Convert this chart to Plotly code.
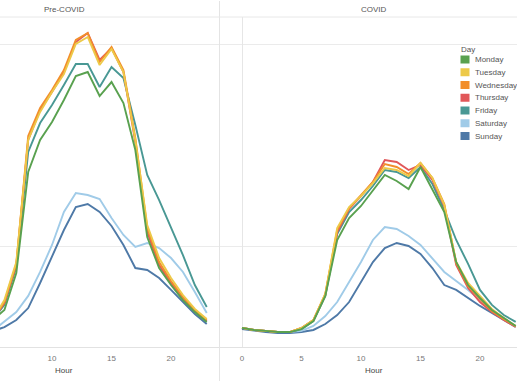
import plotly.graph_objects as go

hours = list(range(24))
days = ["Monday", "Tuesday", "Wednesday", "Thursday", "Friday", "Saturday", "Sunday"]
day_colors = ["#59a14f", "#edc948", "#f28e2b", "#e15759", "#499894", "#a0cbe8", "#4e79a7"]
x_ticks = [0, 5, 10, 15, 20]
y_grid = [1000, 10000]

# Pre-COVID hourly values
pre_monday = [440, 406, 384, 375, 384, 430, 482, 735, 2324, 3348, 4111, 5282, 6944, 7267, 5528, 6484, 5105, 2987, 1108, 778, 641, 540, 471, 421]
pre_tuesday = [440, 406, 384, 375, 384, 430, 540, 833, 3348, 4607, 5786, 7103, 10000, 10832, 7870, 9445, 7267, 3348, 1271, 872, 694, 572, 488, 435]
pre_wednesday = [440, 406, 384, 375, 384, 430, 528, 815, 3504, 4822, 5920, 7434, 10466, 11336, 8145, 9663, 7434, 3425, 1228, 833, 671, 559, 482, 430]
pre_thursday = [440, 406, 384, 375, 384, 430, 522, 805, 3348, 4713, 5786, 7267, 10230, 11336, 8333, 9554, 7267, 3272, 1173, 805, 656, 553, 477, 425]
pre_friday = [440, 406, 384, 375, 384, 430, 511, 787, 2920, 4063, 4989, 6266, 7962, 7962, 6125, 7692, 6787, 3972, 2247, 1689, 1228, 902, 641, 499]
pre_saturday = [482, 440, 411, 393, 375, 380, 421, 471, 566, 744, 1012, 1474, 1830, 1788, 1708, 1376, 1134, 989, 1035, 977, 872, 744, 592, 466]
pre_sunday = [500, 450, 420, 400, 380, 378, 397, 430, 493, 656, 882, 1200, 1560, 1614, 1474, 1256, 1012, 778, 761, 694, 606, 528, 461, 411]

# COVID hourly values
covid_monday = [393, 384, 380, 375, 375, 388, 425, 566, 1071, 1376, 1578, 1893, 2247, 2098, 1915, 2461, 1893, 1474, 833, 641, 553, 482, 440, 402]
covid_tuesday = [393, 384, 380, 375, 375, 393, 430, 579, 1228, 1560, 1768, 2050, 2433, 2378, 2221, 2576, 2171, 1596, 833, 656, 566, 488, 440, 402]
covid_wednesday = [393, 384, 380, 375, 375, 393, 430, 579, 1200, 1542, 1788, 2074, 2546, 2461, 2272, 2576, 2171, 1614, 824, 634, 547, 477, 435, 402]
covid_thursday = [393, 384, 380, 375, 375, 393, 430, 572, 1173, 1525, 1768, 2074, 2666, 2605, 2378, 2518, 2122, 1578, 805, 619, 528, 471, 430, 397]
covid_friday = [393, 384, 380, 375, 375, 388, 425, 566, 1147, 1474, 1689, 1982, 2378, 2324, 2171, 2461, 2027, 1508, 1071, 815, 606, 511, 455, 421]
covid_saturday = [393, 384, 380, 375, 375, 380, 402, 450, 528, 663, 833, 1071, 1242, 1214, 1121, 1012, 872, 744, 671, 606, 540, 482, 440, 402]
covid_sunday = [388, 380, 375, 371, 371, 375, 384, 411, 455, 528, 663, 833, 977, 1035, 1000, 913, 778, 641, 606, 553, 505, 466, 430, 397]

pre_series = [pre_monday, pre_tuesday, pre_wednesday, pre_thursday, pre_friday, pre_saturday, pre_sunday]
covid_series = [covid_monday, covid_tuesday, covid_wednesday, covid_thursday, covid_friday, covid_saturday, covid_sunday]

W, H = 517, 387
M_T, M_B = 17, 40
PH = H - M_T - M_B


def px_x(px):
    return px / W


def px_y(py):
    return (H - M_B - py) / PH


FONT = "Liberation Sans, Arial, sans-serif"

fig = go.Figure()
# draw Sunday first so that Monday ends up on top
for day, color, pre, cov in reversed(list(zip(days, day_colors, pre_series, covid_series))):
    fig.add_trace(go.Scatter(x=hours, y=pre, mode="lines", name=day, showlegend=False,
                             line=dict(color=color, width=1.9), xaxis="x", yaxis="y"))
    fig.add_trace(go.Scatter(x=hours, y=cov, mode="lines", name=day, showlegend=False,
                             line=dict(color=color, width=1.9), xaxis="x2", yaxis="y2"))

axis_common = dict(tickvals=x_ticks, showgrid=False, showline=True, linecolor="#e2e2e2",
                   linewidth=1, ticks="outside", ticklen=3, tickcolor="rgba(0,0,0,0)",
                   tickfont=dict(family=FONT, size=8, color="#777777"))
yaxis_common = dict(type="log", range=[2.5, 4.1337], tickvals=y_grid, showticklabels=False,
                    showgrid=True, gridcolor="#ebebeb", gridwidth=1, zeroline=False,
                    showline=False, ticks="")

shapes = [
    dict(type="line", xref="paper", yref="paper", x0=px_x(219.5), x1=px_x(219.5),
         y0=px_y(381), y1=px_y(1), line=dict(color="#e4e4e4", width=1)),
    dict(type="line", xref="paper", yref="paper", x0=0, x1=1, y0=px_y(17), y1=px_y(17),
         line=dict(color="#e8e8e8", width=1)),
]

annotations = [
    dict(text="Pre-COVID", x=px_x(64), y=px_y(10), xref="paper", yref="paper", showarrow=False,
         xanchor="center", yanchor="middle", font=dict(family=FONT, size=8, color="#555555")),
    dict(text="COVID", x=px_x(374), y=px_y(10), xref="paper", yref="paper", showarrow=False,
         xanchor="center", yanchor="middle", font=dict(family=FONT, size=8, color="#555555")),
    dict(text="Hour", x=px_x(64), y=px_y(370), xref="paper", yref="paper", showarrow=False,
         xanchor="center", yanchor="middle", font=dict(family=FONT, size=8, color="#444444")),
    dict(text="Hour", x=px_x(374), y=px_y(370), xref="paper", yref="paper", showarrow=False,
         xanchor="center", yanchor="middle", font=dict(family=FONT, size=8, color="#444444")),
    dict(text="Day", x=px_x(458.5), y=px_y(50), xref="paper", yref="paper", showarrow=False,
         xanchor="left", yanchor="middle", font=dict(family=FONT, size=8, color="#555555")),
]

for i, (day, color) in enumerate(zip(days, day_colors)):
    cy = 59.5 + 12.75 * i
    shapes.append(dict(type="rect", xref="paper", yref="paper", x0=px_x(460.5), x1=px_x(469.5),
                       y0=px_y(cy + 4), y1=px_y(cy - 4), fillcolor=color, line=dict(width=0)))
    annotations.append(dict(text=day, x=px_x(472.5), y=px_y(cy), xref="paper", yref="paper",
                            showarrow=False, xanchor="left", yanchor="middle",
                            font=dict(family=FONT, size=8, color="#555555")))

fig.update_layout(
    template="none",
    width=W, height=H,
    margin=dict(l=0, r=0, t=M_T, b=M_B, pad=0),
    paper_bgcolor="white", plot_bgcolor="white",
    font=dict(family=FONT, color="#555555"),
    showlegend=False,
    xaxis=dict(domain=[0, 219 / W], range=[5.63, 24.03], anchor="y", zeroline=False, **axis_common),
    xaxis2=dict(domain=[220 / W, 1], range=[-1.849, 23.11], anchor="y2", zeroline=True,
                zerolinecolor="#e6e6e6", zerolinewidth=1, **axis_common),
    yaxis=dict(domain=[0, 1], anchor="x", **yaxis_common),
    yaxis2=dict(domain=[0, 1], anchor="x2", **yaxis_common),
    shapes=shapes,
    annotations=annotations,
)

fig.write_html("out.html", config={"displayModeBar": False},
               post_script="document.body.style.margin='0';document.body.style.overflow='hidden';")
